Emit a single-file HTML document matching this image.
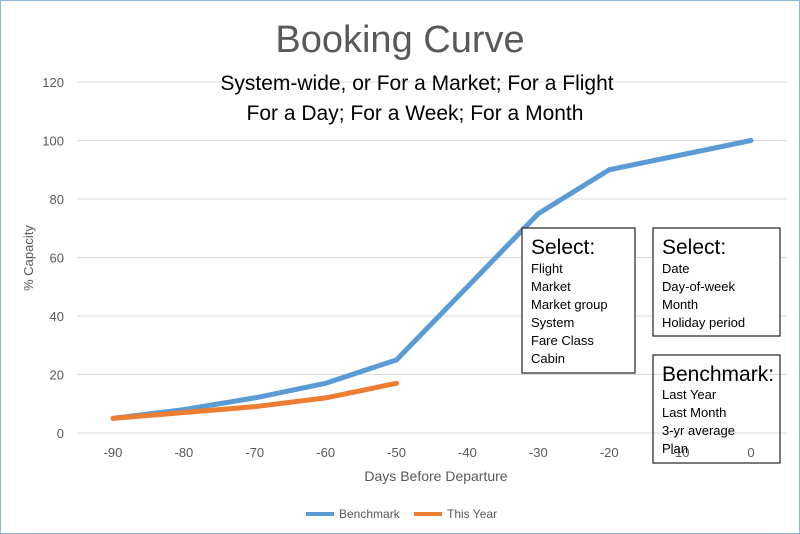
<!DOCTYPE html>
<html><head><meta charset="utf-8"><style>
body{margin:0;background:#fff;}
svg{display:block;font-family:"Liberation Sans",Calibri,sans-serif;}
</style></head><body>
<svg width="800" height="534" viewBox="0 0 800 534">
<rect x="0.5" y="0.5" width="799" height="533" fill="#fff" stroke="#8fb4e3" stroke-width="1"/>
<g id="grid"></g>
<g id="yt" font-size="13" fill="#595959" text-anchor="end"></g>
<g id="xt" font-size="13" fill="#595959" text-anchor="middle"></g>
<text x="400" y="52" text-anchor="middle" font-size="38" fill="#595959">Booking Curve</text>
<text x="417" y="90" text-anchor="middle" font-size="21" fill="#000">System-wide, or For a Market; For a Flight</text>
<text x="415" y="120" text-anchor="middle" font-size="21" fill="#000">For a Day; For a Week; For a Month</text>
<text transform="translate(33,258) rotate(-90)" text-anchor="middle" font-size="13" fill="#595959">% Capacity</text>
<text x="436" y="481" text-anchor="middle" font-size="14" fill="#595959">Days Before Departure</text>
<g id="series"></g>
<g>
<rect x="522" y="228" width="113" height="145" fill="#fff" stroke="#222" stroke-width="1.2"/>
<text x="531" y="254" font-size="21">Select:</text>
<g font-size="13"><text x="531" y="273">Flight</text><text x="531" y="291">Market</text><text x="531" y="309">Market group</text><text x="531" y="327">System</text><text x="531" y="345">Fare Class</text><text x="531" y="363">Cabin</text></g>
</g>
<g>
<rect x="653" y="228" width="127" height="108" fill="#fff" stroke="#222" stroke-width="1.2"/>
<text x="662" y="254" font-size="21">Select:</text>
<g font-size="13"><text x="662" y="273">Date</text><text x="662" y="291">Day-of-week</text><text x="662" y="309">Month</text><text x="662" y="327">Holiday period</text></g>
</g>
<g>
<rect x="653" y="355" width="127" height="108" fill="none" stroke="#222" stroke-width="1.2"/>
<text x="662" y="381" font-size="21">Benchmark:</text>
<g font-size="13"><text x="662" y="399">Last Year</text><text x="662" y="417">Last Month</text><text x="662" y="435">3-yr average</text><text x="662" y="453">Plan</text></g>
</g>
<g font-size="12" fill="#595959">
<line x1="306" y1="514" x2="334" y2="514" stroke="#5b9bd5" stroke-width="4"/>
<text x="339" y="518">Benchmark</text>
<line x1="414" y1="514" x2="442" y2="514" stroke="#ed7d31" stroke-width="4"/>
<text x="447" y="518">This Year</text>
</g>
</svg>
<script>
const days=[-90,-80,-70,-60,-50,-40,-30,-20,-10,0];
const benchmark=[5,8,12,17,25,50,75,90,95,100];
const thisYear=[5,7,9,12,17];
const yTicks=[0,20,40,60,80,100,120];
const NS="http://www.w3.org/2000/svg";
const xs=d=>113+(d+90)*(751-113)/90;
const ys=v=>433-v*(433-82)/120;
const grid=document.getElementById('grid'),yt=document.getElementById('yt'),xt=document.getElementById('xt'),ser=document.getElementById('series');
yTicks.forEach(t=>{
 const l=document.createElementNS(NS,'line');
 
 
 l.setAttribute('x1',77);l.setAttribute('x2',787);l.setAttribute('y1',ys(t));l.setAttribute('y2',ys(t));
 l.setAttribute('stroke','#d9d9d9');l.setAttribute('stroke-width','1');grid.appendChild(l);
 const tx=document.createElementNS(NS,'text');
 
 
 tx.setAttribute('x',64);tx.setAttribute('y',ys(t)+5);tx.textContent=t;yt.appendChild(tx);
});
days.forEach(d=>{
 const tx=document.createElementNS(NS,'text');
 
 
 tx.setAttribute('x',xs(d));tx.setAttribute('y',457);tx.textContent=d;xt.appendChild(tx);
});
function line(vals,color,name){
 const p=document.createElementNS(NS,'polyline');
 
 
 p.setAttribute('points',vals.map((v,i)=>xs(days[i])+','+ys(v)).join(' '));
 p.setAttribute('fill','none');p.setAttribute('stroke',color);p.setAttribute('stroke-width','5');
 p.setAttribute('stroke-linejoin','round');p.setAttribute('stroke-linecap','round');
 ser.appendChild(p);
}
line(benchmark,'#5b9bd5','benchmark-line');
line(thisYear,'#ed7d31','this-year-line');
</script>
</body></html>
